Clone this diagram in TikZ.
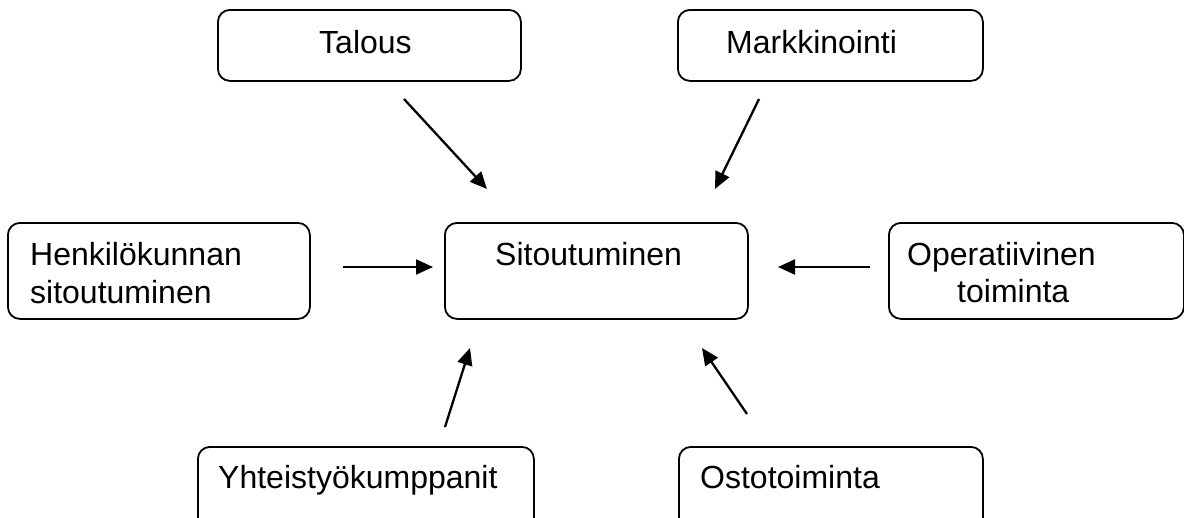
\documentclass[tikz,border=0pt]{standalone}
\usepackage{fontspec}
\setmainfont{Liberation Sans}
\usetikzlibrary{arrows.meta}
\begin{document}
\begin{tikzpicture}[x=1pt,y=-1pt,
  box/.style={draw, line width=1.8pt, rounded corners=12pt, anchor=north west, inner sep=0pt},
  lbl/.style={inner sep=0pt, anchor=base west, font=\fontsize{32}{38}\selectfont},
  link/.style={line width=2.3pt, -{Triangle[length=17pt,width=15pt]}}]
\clip (0,0) rectangle (1184,517);

% boxes
\node[box, minimum width=303pt, minimum height=71pt] (talous) at (217,9) {};
\node[box, minimum width=305pt, minimum height=71pt] (markk) at (677,9) {};
\node[box, minimum width=302pt, minimum height=96pt] (henk) at (7,222) {};
\node[box, minimum width=303pt, minimum height=96pt] (sito) at (444,222) {};
\node[box, minimum width=295pt, minimum height=96pt] (oper) at (888,222) {};
\node[box, minimum width=336pt, minimum height=100pt] (yht) at (197,446) {};
\node[box, minimum width=304pt, minimum height=100pt] (osto) at (678,446) {};

% labels
\node[lbl] (tTalous) at (319,53) {Talous};
\node[lbl] (tMarkk) at (726,53) {Markkinointi};
\node[lbl] (tHenk1) at (30,265) {Henkilökunnan};
\node[lbl] (tHenk2) at (30,303) {sitoutuminen};
\node[lbl] (tSito) at (495,265) {Sitoutuminen};
\node[lbl] (tOper1) at (907,265) {Operatiivinen};
\node[lbl] (tOper2) at (957,302) {toiminta};
\node[lbl] (tYht) at (218,488) {Yhteistyökumppanit};
\node[lbl] (tOsto) at (700,488) {Ostotoiminta};

% arrow end points
\coordinate (s1) at (404,99);  \coordinate (e1) at (487,189);
\coordinate (s2) at (759,99);  \coordinate (e2) at (715,189);
\coordinate (s3) at (343,267); \coordinate (e3) at (433,267);
\coordinate (s4) at (870,267); \coordinate (e4) at (778,267);
\coordinate (s5) at (445,427); \coordinate (e5) at (470,348);
\coordinate (s6) at (747,414); \coordinate (e6) at (702,348);

\foreach \i in {1,...,6} \draw[link] (s\i) -- (e\i);
\end{tikzpicture}
\end{document}
